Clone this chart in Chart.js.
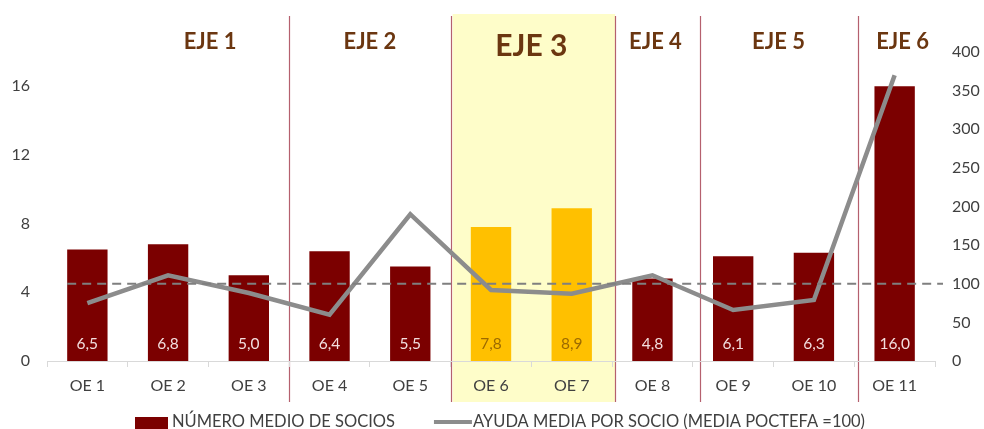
<!DOCTYPE html>
<html>
<head>
<meta charset="utf-8">
<script src="https://cdn.jsdelivr.net/npm/chart.js@4"></script>
<style>
  html, body { margin: 0; padding: 0; background: #fff; }
  #wrap { width: 984px; height: 429px; }
</style>
</head>
<body>
<div id="wrap"><canvas id="myChart" width="984" height="429"></canvas></div>
<script>
'use strict';

let labels = ['OE 1', 'OE 2', 'OE 3', 'OE 4', 'OE 5', 'OE 6', 'OE 7', 'OE 8', 'OE 9', 'OE 10', 'OE 11'];
let socios = [6.5, 6.8, 5.0, 6.4, 5.5, 7.8, 8.9, 4.8, 6.1, 6.3, 16.0];
let ayuda = [75, 111, 88, 60, 190, 92, 87, 111, 66, 79, 370];
let highlighted = [5, 6]; // OE 6, OE 7
let ejeNames = ['EJE 1', 'EJE 2', 'EJE 3', 'EJE 4', 'EJE 5', 'EJE 6'];
let ejeGroups = [[0, 2], [3, 4], [5, 6], [7, 7], [8, 9], [10, 10]];
let leftTicks = [0, 4, 8, 12, 16];
let mediaPoctefa = 100;

let darkRed = '#7b0000';
let orange = '#ffc000';
let grayLine = '#8c8c8c';
let barColors = socios.map((v, i) => highlighted.includes(i) ? orange : darkRed);
let labelColors = socios.map((v, i) => highlighted.includes(i) ? '#9c6a00' : '#f3dede');

let fontFam = 'Lato, "Open Sans", sans-serif';

// small hand nudges, the original separators/titles are not exactly on the boundaries
let titleNudge = [42, 0, 0, 3, 5, 8];
let sepNudge = [0, 0, 0, 3, 7, 4];

// boundary between category i-1 and i
function boundary(x, i) {
  return (x.getPixelForValue(i - 1) + x.getPixelForValue(i)) / 2;
}

let decorations = {
  id: 'decorations',
  beforeDraw(chart) {
    let ctx = chart.ctx;
    let x = chart.scales.x;
    let top = 14, bottom = 402;
    ctx.save();
    // highlight EJE 3
    let g = ejeGroups[2];
    ctx.fillStyle = '#fefdc9';
    let l = boundary(x, g[0]) + 2, r = boundary(x, g[1] + 1) + sepNudge[3];
    ctx.fillRect(l, top, r - l, bottom - top);
    // separators
    ctx.strokeStyle = '#b5606e';
    ctx.lineWidth = 1.2;
    for (let k = 1; k < ejeGroups.length; k++) {
      let bx = Math.round(boundary(x, ejeGroups[k][0]) + sepNudge[k]) + 0.5;
      ctx.beginPath();
      ctx.moveTo(bx, top + 2);
      ctx.lineTo(bx, bottom);
      ctx.stroke();
    }
    // eje titles
    ctx.fillStyle = '#6b3610';
    ctx.textAlign = 'center';
    ctx.textBaseline = 'middle';
    for (let k = 0; k < ejeNames.length; k++) {
      let a = ejeGroups[k][0], b = ejeGroups[k][1];
      let cx = (x.getPixelForValue(a) + x.getPixelForValue(b)) / 2;
      let big = k === 2;
      ctx.font = 'bold ' + (big ? 30 : 22) + 'px ' + fontFam;
      ctx.fillText(ejeNames[k], cx + titleNudge[k], big ? 46 : 42);
    }
    // legend (manual, partly cut at the bottom like the original)
    ctx.font = '16.5px ' + fontFam;
    ctx.textAlign = 'left';
    ctx.fillStyle = darkRed;
    let lx = 135;
    ctx.fillRect(lx, 417, 33, 13);
    ctx.fillStyle = '#404040';
    ctx.fillText(chart.data.datasets[0].label, lx + 37, 422);
    lx = lx + 37 + ctx.measureText(chart.data.datasets[0].label).width + 39;
    ctx.strokeStyle = grayLine;
    ctx.lineWidth = 4;
    ctx.beginPath();
    ctx.moveTo(lx, 422);
    ctx.lineTo(lx + 38, 422);
    ctx.stroke();
    ctx.fillText(chart.data.datasets[1].label, lx + 39, 422);
    ctx.restore();
  },
  afterDatasetsDraw(chart) {
    let ctx = chart.ctx;
    let x = chart.scales.x;
    let y1 = chart.scales.y1;
    let y = chart.scales.y;
    ctx.save();
    // value labels inside bars
    ctx.font = '15.5px ' + fontFam;
    ctx.textAlign = 'center';
    ctx.textBaseline = 'middle';
    socios.forEach((v, i) => {
      ctx.fillStyle = labelColors[i];
      ctx.fillText(v.toFixed(1).replace('.', ','), x.getPixelForValue(i), y.getPixelForValue(0) - 17);
    });
    // dashed reference line
    let ry = y1.getPixelForValue(mediaPoctefa);
    let half = chart.getDatasetMeta(0).data[0].width / 2;
    ctx.strokeStyle = '#7f7f7f';
    ctx.lineWidth = 2;
    ctx.setLineDash([9, 6]);
    ctx.beginPath();
    ctx.moveTo(x.getPixelForValue(0) - half, ry);
    ctx.lineTo(chart.chartArea.right + 8, ry);
    ctx.stroke();
    ctx.restore();
  }
};

let ctx = document.getElementById('myChart').getContext('2d');
let myChart = new Chart(ctx, {
  data: {
    labels: labels,
    datasets: [{
      type: 'bar',
      label: 'NÚMERO MEDIO DE SOCIOS',
      data: socios,
      backgroundColor: barColors,
      yAxisID: 'y',
      categoryPercentage: 1,
      barPercentage: 0.5,
      order: 2
    }, {
      type: 'line',
      label: 'AYUDA MEDIA POR SOCIO (MEDIA POCTEFA =100)',
      data: ayuda,
      borderColor: grayLine,
      backgroundColor: grayLine,
      borderWidth: 4.5,
      pointRadius: 0,
      tension: 0,
      yAxisID: 'y1',
      order: 1
    }]
  },
  options: {
    responsive: false,
    animation: false,
    layout: { padding: { left: 8, right: 0, top: 52, bottom: 28 } },
    plugins: {
      tooltip: { enabled: false },
      legend: { display: false }
    },
    scales: {
      x: {
        offset: true,
        afterFit(axis) { axis.height = 40; },
        grid: { display: true, drawOnChartArea: false, drawTicks: true, tickLength: 6, color: '#d9d9d9', offset: true },
        border: { display: true, color: '#d9d9d9' },
        ticks: { color: '#404040', font: { family: fontFam, size: 16 }, padding: 9 }
      },
      y: {
        position: 'left',
        min: 0,
        max: 18,
        afterBuildTicks(axis) { axis.ticks = leftTicks.map(v => ({ value: v })); },
        afterFit(axis) { axis.width = 39; },
        grid: { display: false },
        border: { display: false },
        ticks: { color: '#404040', font: { family: fontFam, size: 16 }, padding: 9 }
      },
      y1: {
        position: 'right',
        min: 0,
        max: 400,
        ticks: { stepSize: 50, color: '#404040', font: { family: fontFam, size: 16 }, padding: 9 },
        afterFit(axis) { axis.width = 49; },
        grid: { display: false },
        border: { display: false }
      }
    }
  },
  plugins: [decorations]
});
</script>
</body>
</html>
